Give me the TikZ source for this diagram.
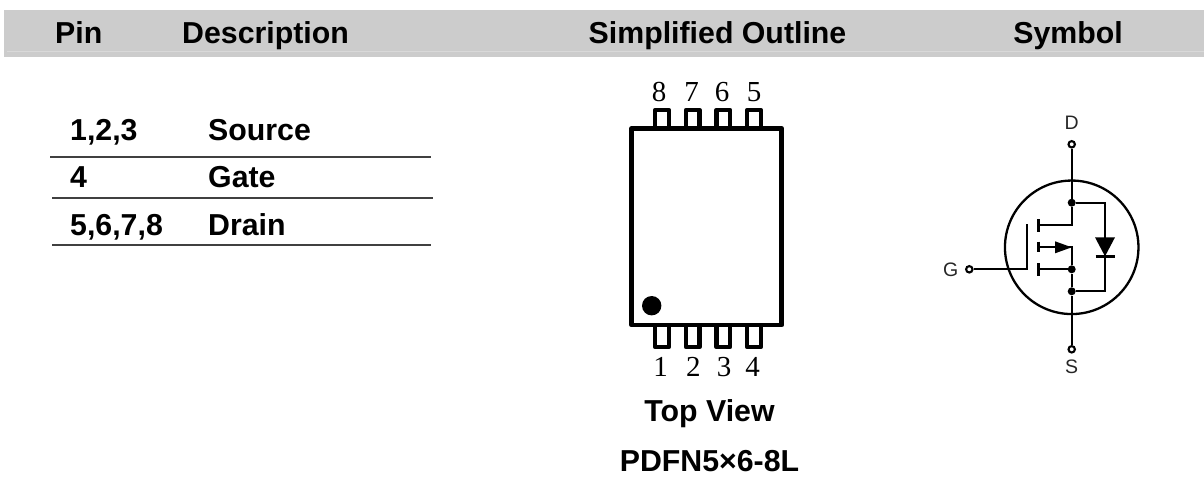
\documentclass[tikz,border=0pt]{standalone}
\usepackage{fontspec}
\setmainfont{Liberation Sans}
\newfontfamily\timesf{Liberation Serif}
\begin{document}
\begin{tikzpicture}[x=1pt,y=-1pt,
  hd/.style={font=\fontsize{30.3}{32}\selectfont\bfseries,inner sep=0pt,text=black},
  cell/.style={hd,anchor=base west},
  pinnum/.style={font=\timesf\fontsize{29}{30}\selectfont,inner sep=0pt,anchor=base},
  lab/.style={font=\fontsize{19.5}{20}\selectfont,inner sep=0pt,text=black!85},
  rule/.style={line width=1.1pt,draw=black!75},
  pkg/.style={line width=4.8pt,line join=round},
  wire/.style={line width=2.3pt},
  dot/.style={circle,fill=black,inner sep=0pt,minimum size=8pt},
  term/.style={circle,draw=black,fill=white,line width=2.1pt,inner sep=0pt,minimum size=6.4pt}]
\useasboundingbox (0,0) rectangle (1204,477);
% header band
\fill[black!20] (4,10) rectangle (1204,57);
\draw[white!85!black,line width=.8pt] (7,51.5) -- (1204,51.5);
\node[cell] (hpin) at (55,43.3) {Pin};
\node[cell] (hdesc) at (182,43.3) {Description};
\node[hd,anchor=base] (hout) at (717.5,43.3) {Simplified Outline};
\node[hd,anchor=base] (hsym) at (1068,43.3) {Symbol};
% table
\node[cell] (r1a) at (70,140.7) {1,2,3};
\node[cell] (r1b) at (208,140.7) {Source};
\node[cell] (r2a) at (70,187.7) {4};
\node[cell] (r2b) at (208,187.7) {Gate};
\node[cell] (r3a) at (70,235) {5,6,7,8};
\node[cell] (r3b) at (208,235) {Drain};
\draw[rule] (50,157) -- (431,157);
\draw[rule] (52,198) -- (433,198);
\draw[rule] (52,245) -- (431,245);
% package pins
\foreach \x in {662,692.7,723.3,754}{
  \draw[pkg,line width=4.4pt] (\x-6.8,128) -- (\x-6.8,110) -- (\x+6.8,110) -- (\x+6.8,128);
  \draw[pkg,line width=4.4pt] (\x-6.8,325) -- (\x-6.8,347) -- (\x+6.8,347) -- (\x+6.8,325);
}
\draw[pkg] (631.7,128.3) rectangle (781.7,325);
\fill (651.7,305.7) circle (9.7);
\node[pinnum] (p8) at (659,101.7) {8};
\node[pinnum] (p7) at (691.5,101.7) {7};
\node[pinnum] (p6) at (722,101.7) {6};
\node[pinnum] (p5) at (754,101.7) {5};
\node[pinnum] (p1) at (660.7,376) {1};
\node[pinnum] (p2) at (693.3,376) {2};
\node[pinnum] (p3) at (724,376) {3};
\node[pinnum] (p4) at (752.7,376) {4};
\node[hd,anchor=base] (tv) at (709.5,421) {Top View};
\node[hd,anchor=base] (pk) at (709.5,471.5) {PDFN5×6-8L};
% symbol
\node[circle,draw=black,line width=2.3pt,inner sep=0pt,minimum size=133.5pt] (body) at (1071.7,247.3) {};
\node[term] (tD) at (1071.7,144.3) {};
\node[term] (tS) at (1071.7,349.3) {};
\node[term] (tG) at (969.3,269.3) {};
\node[dot] (jD) at (1071.7,202.7) {};
\node[dot] (jB) at (1071.7,269.3) {};
\node[dot] (jS) at (1071.7,291.3) {};
\coordinate (gt) at (1027.3,224.3);
\coordinate (gb) at (1027.3,269.3);
\coordinate (chD) at (1038.3,225);
\coordinate (dr) at (1071.7,225);
\coordinate (chM) at (1038.3,247.3);
\coordinate (mid) at (1071.7,247.3);
\coordinate (chB) at (1038.3,269.3);
\coordinate (dt) at (1105,202.7);
\coordinate (db) at (1105,291.3);
\draw[wire] (tD) -- (jD) -- (dr) -- (chD);
\draw[wire] (chM) -- (mid) -- (jB) -- (jS) -- (tS);
\draw[wire] (tG) -- (gb) -- (gt);
\draw[wire] (chB) -- (jB);
\draw[wire] (jD) -- (dt) -- (db) -- (jS);
\draw[line width=2.8pt] (1038.3,219) -- (1038.3,231.7);
\draw[line width=2.8pt] (1038.3,241.7) -- (1038.3,251.7);
\draw[line width=2.8pt] (1038.3,263) -- (1038.3,276);
\fill (1055,241.3) -- (1071.7,247.3) -- (1055,253.3) -- cycle;
\fill (1095,237.3) -- (1115,237.3) -- (1105,256.3) -- cycle;
\draw[line width=2.4pt] (1095.5,256.5) -- (1114.5,256.5);
\node[lab] (lD) at (1071.7,123) {D};
\node[lab] (lS) at (1071.7,367) {S};
\node[lab] (lG) at (950.7,270) {G};
\end{tikzpicture}
\end{document}
